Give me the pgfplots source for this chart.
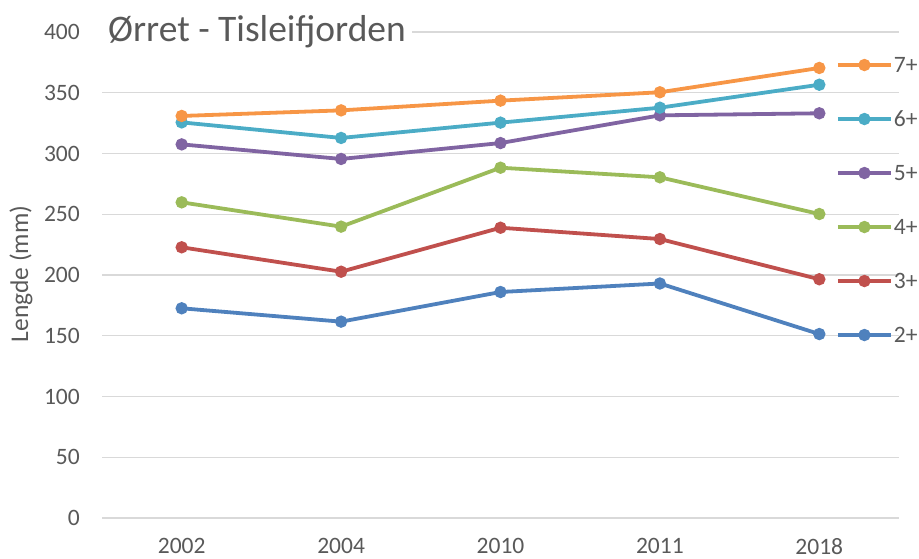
\documentclass[border=0pt]{standalone}
\usepackage{pgfplots}
\pgfplotsset{compat=1.18}
\usepackage{fontspec}
\setmainfont{Carlito}
\definecolor{txt}{HTML}{595959}
\definecolor{gridc}{HTML}{D9D9D9}
\definecolor{c2}{HTML}{4F81BD}
\definecolor{c3}{HTML}{C0504D}
\definecolor{c4}{HTML}{9BBB59}
\definecolor{c5}{HTML}{8064A2}
\definecolor{c6}{HTML}{4BACC6}
\definecolor{c7}{HTML}{F79646}
\newcommand{\tickfont}{\fontsize{23.5bp}{28bp}\selectfont}
\begin{document}
\begin{tikzpicture}
\useasboundingbox (0,0) rectangle (919bp,559bp);
\begin{axis}[
  at={(102bp,41bp)}, anchor=south west,
  scale only axis, width=797bp, height=486bp,
  xmin=-0.5, xmax=4.5, ymin=0, ymax=400,
  xtick={0,1,2,3,4}, xticklabels={2002,2004,2010,2011,2018},
  ytick={0,50,...,400},
  ymajorgrids, grid style={gridc, line width=1.3bp},
  axis line style={draw=none}, major tick length=0pt, tick style={draw=none},
  /pgf/number format/assume math mode=true,
  tick label style={font=\tickfont, text=txt, inner sep=0pt},
  yticklabel style={anchor=east, xshift=-22bp},
  xticklabel style={anchor=north, yshift=-20.5bp},
  clip=false,
  every axis plot/.append style={line width=3.8bp, mark=*, mark size=4.2bp, mark options={line width=0.5bp}},
  legend image code/.code={\draw[mark repeat=2, mark phase=2, #1] plot coordinates {(0bp,7.5bp) (26.5bp,7.5bp) (53bp,7.5bp)};},
  reverse legend,
  legend style={at={(rel axis cs:0.921,0.9475)}, anchor=north west, draw=none, fill=none,
    inner sep=0pt, outer sep=0pt, row sep=39bp, column sep=1bp,
    font=\tickfont, text=txt,
    nodes={inner sep=0pt, text height=15bp, text depth=0pt, anchor=base west}},
]
\addplot[c2, mark options={fill=c2}] coordinates {(0,172.6) (1,161.6) (2,186) (3,193) (4,151.4)};
\addlegendentry{2+}
\addplot[c3, mark options={fill=c3}] coordinates {(0,222.8) (1,202.7) (2,238.9) (3,229.6) (4,196.5)};
\addlegendentry{3+}
\addplot[c4, mark options={fill=c4}] coordinates {(0,259.8) (1,239.8) (2,288.3) (3,280.4) (4,250.2)};
\addlegendentry{4+}
\addplot[c5, mark options={fill=c5}] coordinates {(0,307.5) (1,295.5) (2,308.6) (3,331.4) (4,333.1)};
\addlegendentry{5+}
\addplot[c6, mark options={fill=c6}] coordinates {(0,325.6) (1,312.8) (2,325.4) (3,337.7) (4,356.6)};
\addlegendentry{6+}
\addplot[c7, mark options={fill=c7}] coordinates {(0,330.9) (1,335.5) (2,343.5) (3,350.4) (4,370.4)};
\addlegendentry{7+}
\node[anchor=base west, fill=white, inner xsep=6bp, inner ysep=5bp, text=txt,
  font=\fontsize{37.5bp}{44bp}\selectfont, yshift=-10bp] at (rel axis cs:0,1) {Ørret - Tisleifjorden};
\node[rotate=90, anchor=center, inner sep=0pt, text=txt,
  font=\fontsize{25.5bp}{30bp}\selectfont, yshift=81bp] at (rel axis cs:0,0.502) {Lengde (mm)};
\end{axis}
\end{tikzpicture}
\end{document}
